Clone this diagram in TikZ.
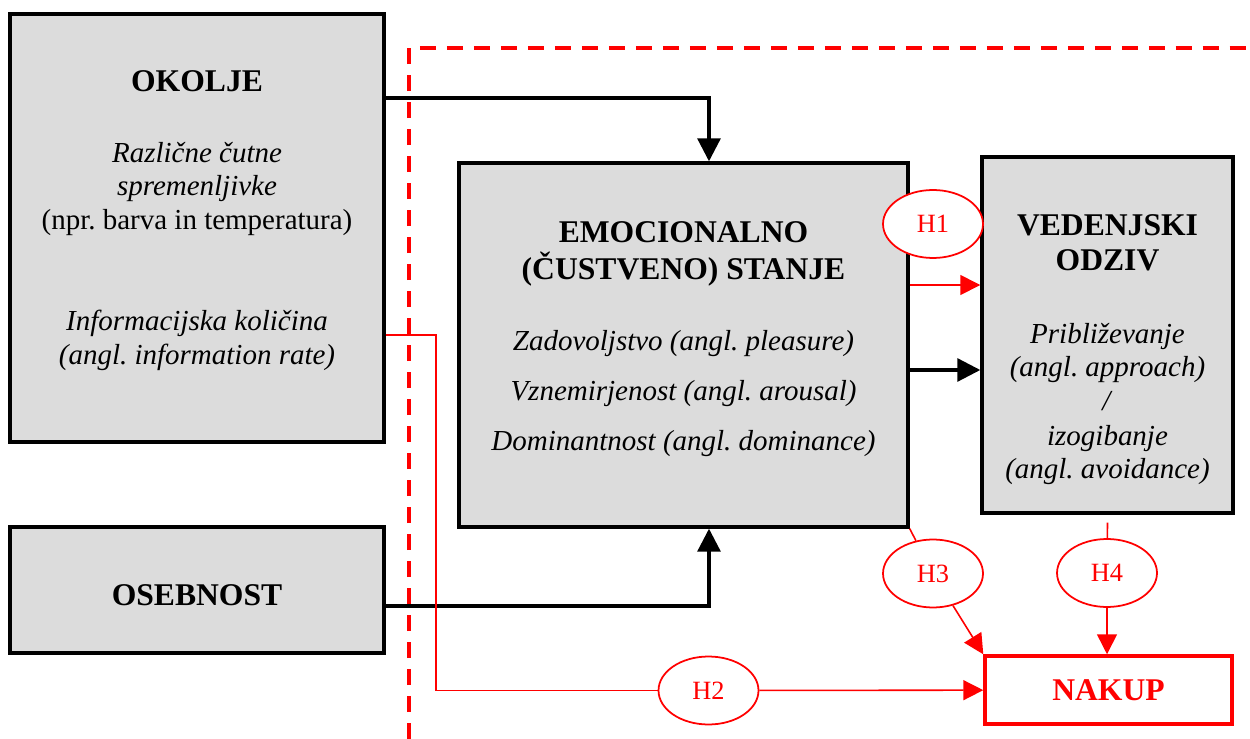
\documentclass[tikz,border=0pt]{standalone}
\usepackage{fontspec}
\setmainfont{Liberation Serif}
\usepackage{xcolor}
\usepackage{tikz}
\usetikzlibrary{arrows.meta,positioning,shapes.geometric,calc}
\definecolor{sivina}{HTML}{DCDCDC}
\definecolor{rdeca}{HTML}{FF0000}
\newcommand{\naslov}{\fontsize{18}{21}\selectfont\bfseries}
\frenchspacing
\tikzset{
    okvir/.style={
        rectangle,
        draw,
        line width=2pt,
        fill=sivina,
        inner sep=0pt
    },
    besedilo/.style={
        align=center,
        anchor=north,
        inner sep=0pt,
        font=\fontsize{16.5}{19}\selectfont
    },
    hipoteza/.style={
        ellipse,
        draw=rdeca,
        line width=1pt,
        fill=white,
        text=rdeca,
        minimum width=2cm,
        minimum height=1.36cm,
        inner sep=0pt,
        font=\fontsize{15}{17}\selectfont
    },
    tok/.style={-{Triangle[length=0.46cm,width=0.46cm]}, line width=1.8pt},
    rdecTok/.style={draw=rdeca, line width=0.9pt},
    puscica/.style={-{Triangle[length=0.4cm,width=0.4cm]}},
    mejaModela/.style={draw=rdeca, line width=2.2pt, dash pattern=on 0.32cm off 0.22cm}
}

\begin{document}
\begin{tikzpicture}[x=0.02cm, y=-0.02cm]
    \useasboundingbox (0,0) rectangle (1250,739);

    \draw[mejaModela] (409,739) -- (409,48) -- (1250,48);

    \node[okvir, minimum width=7.48cm, minimum height=8.56cm] (okolje) at (197,228) {};
    \node[okvir, minimum width=7.48cm, minimum height=2.52cm, text height=0.63cm] (osebnost) at (197,590)
    {\naslov OSEBNOST};
    \node[okvir, minimum width=8.98cm, minimum height=7.28cm] (emo) at (683.5,345) {};
    \node[okvir, minimum width=5.02cm, minimum height=7.12cm] (ved) at (1107.5,335) {};
    \node[rectangle, draw=rdeca, line width=2pt, text=rdeca, minimum width=4.94cm, minimum height=1.36cm] (nakup) at (1108.5,690)
    {\naslov NAKUP};

    \node[besedilo] (okoljeBesedilo) at (197,70)
    {{\naslov OKOLJE}\\[21.4pt]
     \textit{Različne čutne}\\
     \textit{spremenljivke}\\
     (npr. barva in temperatura)\\[39pt]
     \textit{Informacijska količina}\\
     \textit{(angl. information rate)}};

    \node[besedilo] (emoBesedilo) at (683.5,221)
    {{\naslov EMOCIONALNO}\\[2pt]
     {\naslov (ČUSTVENO) STANJE}\\[21.4pt]
     \textit{Zadovoljstvo (angl. pleasure)}\\[9.5pt]
     \textit{Vznemirjenost (angl. arousal)}\\[9.5pt]
     \textit{Dominantnost (angl. dominance)}};

    \node[besedilo] (vedBesedilo) at (1107.5,214)
    {{\naslov VEDENJSKI}\\[1pt]
     {\naslov ODZIV}\\[22.5pt]
     \textit{Približevanje}\\
     \textit{(angl. approach)}\\
     \textit{/}\\[1pt]
     \textit{izogibanje}\\
     \textit{(angl. avoidance)}};

    \node[hipoteza] (h1) at (933,224) {H1};
    \node[hipoteza] (h2) at (708.5,690.5) {H2};
    \node[hipoteza] (h3) at (933,573.5) {H3};
    \node[hipoteza] (h4) at (1107,573) {H4};

    \draw[tok] ([yshift=2.6cm]okolje.east) -| ([xshift=0.51cm]emo.north);
    \draw[tok] ([yshift=-0.32cm]osebnost.east) -| ([xshift=0.51cm]emo.south);
    \draw[tok] ([yshift=-0.5cm]emo.east) -- ([yshift=-0.5cm]emo.east -| ved.west);

    \draw[rdecTok, puscica] ([yshift=1.2cm]emo.east) -- ([yshift=1.2cm]emo.east -| ved.west);
    \draw[rdecTok] ([yshift=-2.14cm]okolje.east) -- ++(50,0) |- (h2);
    \draw[rdecTok, puscica] (h2) -- (nakup);
    \draw[rdecTok] (emo.south east) -- (h3);
    \draw[rdecTok, puscica] (h3) -- (nakup.north west);
    \draw[rdecTok] ([yshift=-0.16cm]ved.south) -- (h4);
    \draw[rdecTok, puscica] (h4) -- (h4 |- nakup.north);

\end{tikzpicture}
\end{document}
